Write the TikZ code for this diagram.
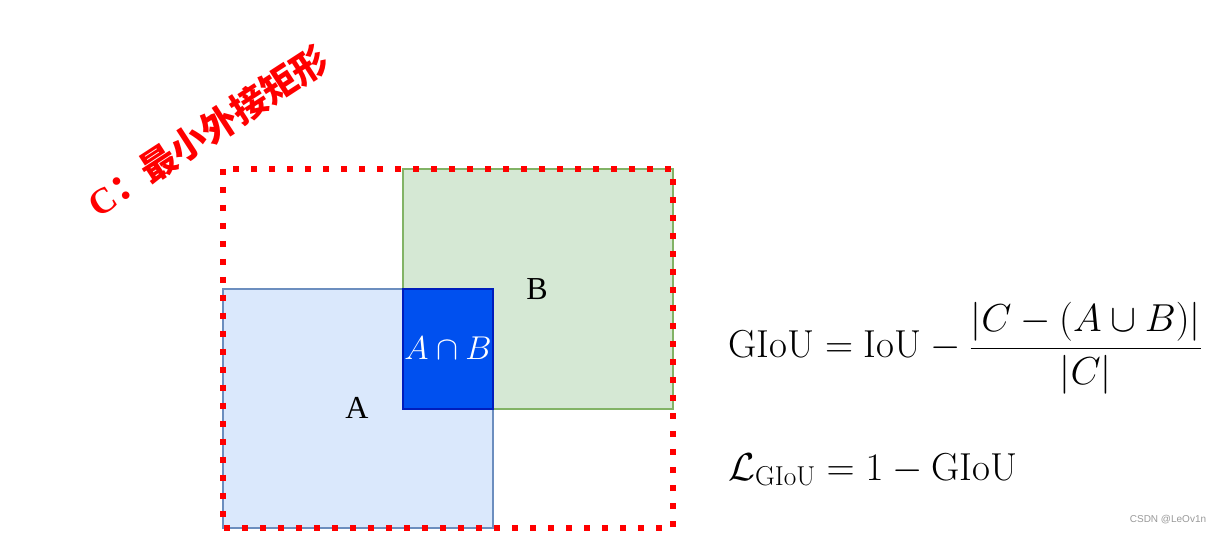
\RequirePackage{fix-cm}
\documentclass[tikz,border=0pt]{standalone}
\usepackage{amsmath}
\usepackage{fontspec}
\newfontfamily\cjkbold{Noto Sans CJK SC Bold}
\newfontfamily\timesfont{Liberation Serif}
\newfontfamily\wmfont{Liberation Sans}
\definecolor{afill}{HTML}{DAE8FC}
\definecolor{aline}{HTML}{6C8EBF}
\definecolor{bfill}{HTML}{D5E8D4}
\definecolor{bline}{HTML}{82B366}
\definecolor{ifill}{HTML}{0050EF}
\definecolor{iline}{HTML}{001DBC}
\definecolor{wmgray}{HTML}{9A9A9A}
\tikzset{
  boxA/.style={fill=afill, draw=aline, line width=2pt},
  boxB/.style={fill=bfill, draw=bline, line width=2pt},
  boxI/.style={fill=ifill, draw=iline, line width=2pt},
  boxC/.style={draw=red, line width=6pt, dash pattern=on 6pt off 12pt},
  lbl/.style={font=\timesfont\fontsize{32}{36}\selectfont, text=black, inner sep=0pt},
  formula/.style={font=\fontsize{39}{46}\selectfont, inner sep=0pt},
}
\begin{document}
\begin{tikzpicture}[x=1pt,y=-1pt]
\useasboundingbox (0,0) rectangle (1224,534);
\fill[white] (0,0) rectangle (1224,534);
% B box
\draw[boxB] (403,169) rectangle (673,409);
% A box
\draw[boxA] (223,289) rectangle (493,528);
% intersection
\draw[boxI] (403,289) rectangle (493,409);
% C dotted
\draw[boxC] (223,169) rectangle (673,528);
% labels
\node[lbl] (la) at (357,408) {A};
\node[lbl] (lb) at (537,289) {B};
\node[inner sep=0pt, text=white, font=\fontsize{33}{38}\selectfont] (li) at (448,348) {$A\cap B$};
% title
\node[rotate=33, text=red, inner sep=0pt] (title) at (208,131)
  {\timesfont\bfseries\fontsize{36}{42}\selectfont C\cjkbold ：最小外接矩形};
% formulas
\node[formula, anchor=base west] (f1) at (728,358)
  {$\mathrm{GIoU} = \mathrm{IoU} - \dfrac{|C-(A\cup B)|}{|C|}$};
\node[formula, anchor=base west] (f2) at (728,480)
  {$\mathcal{L}_{\mathrm{GIoU}} = 1 - \mathrm{GIoU}$};
% watermark
\node[text=wmgray, font=\wmfont\fontsize{10}{11}\selectfont, inner sep=0pt] (wm) at (1168,520) {CSDN @LeOv1n};
\end{tikzpicture}
\end{document}
